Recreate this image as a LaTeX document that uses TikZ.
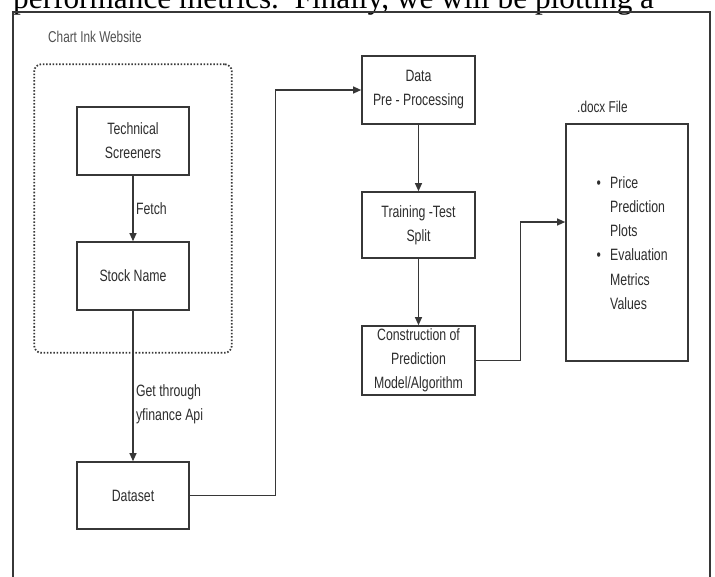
\documentclass[tikz,border=0pt]{standalone}
\usepackage{fontspec}
\setmainfont{Liberation Serif}
\newfontfamily\narrowsans[FakeStretch=0.75]{Liberation Sans}
\usepackage{tikz}
\usetikzlibrary{arrows.meta, positioning, fit, calc}
\definecolor{mydark}{RGB}{55,55,55}
\definecolor{myink}{RGB}{45,45,45}
\definecolor{mygrey}{RGB}{80,80,80}
\tikzset{
  box/.style={rectangle, draw=mydark, fill=white,
    minimum width=3.36cm, minimum height=2.04cm, inner sep=0pt,
    align=center, line width=1.3pt, text=myink,
    font=\narrowsans\fontsize{14}{20.5}\selectfont},
  webgroup/.style={rectangle, draw=mydark, line width=1.5pt,
    dash pattern=on 1.3pt off 1.5pt, rounded corners=6pt, inner sep=1.26cm},
  edgetext/.style={inner sep=2pt, text=myink, align=left,
    font=\narrowsans\fontsize{14}{20.5}\selectfont},
  lbltext/.style={inner sep=0pt, text=mygrey,
    font=\narrowsans\fontsize{13.4}{15}\selectfont},
  arrow/.style={-{Triangle[length=7pt, width=6pt]}, line width=1.2pt, color=mydark}
}

\begin{document}
\begin{tikzpicture}[x=0.03cm, y=-0.03cm]
  \useasboundingbox (0,0) rectangle (715,576);
  \clip (0,0) rectangle (715,576);

  % ── Page text and frame ───────────────────────────────────────────
  \node[anchor=base west, inner sep=0pt, font=\fontsize{26.7}{32}\selectfont]
    (pagetext) at (13,8) {performance metrics.\ \ Finally, we will be plotting a};
  \draw[draw=mydark, line width=1.6pt] (13,590) -- (13,12) -- (710,12) -- (710,590);

  % ── Chart Ink website ─────────────────────────────────────────────
  \node[box] (techscr)   at (133,141) {Technical\\Screeners};
  \node[box] (stockname) at (133,276) {Stock Name};
  \node[webgroup, fit=(techscr)(stockname)] (chartink) {};
  \node[lbltext, anchor=west] (chartlbl) at (48,37) {Chart Ink Website};
  \draw[arrow] (techscr) -- node[right, edgetext] {Fetch} (stockname);

  % ── Dataset ───────────────────────────────────────────────────────
  \node[box, minimum height=2.01cm] (dataset) at (133,495.5) {Dataset};
  \draw[arrow] (stockname) -- node[right, pos=0.62, edgetext] {Get through\\yfinance Api} (dataset);

  % ── Processing pipeline ───────────────────────────────────────────
  \node[box, minimum width=3.39cm] (datapre) at (418.5,90) {Data\\Pre - Processing};
  \node[box, minimum width=3.39cm, minimum height=1.98cm] (traintest) at (418.5,225) {Training -Test\\Split};
  \node[box, minimum width=3.39cm, minimum height=2.07cm] (construct) at (418.5,360.5)
    {Construction of\\Prediction\\Model/Algorithm};
  \draw[arrow] (dataset.east) -- ++(86,0) |- (datapre.west);
  \draw[arrow] (datapre) -- (traintest);
  \draw[arrow] (traintest) -- (construct);

  % ── Output file ───────────────────────────────────────────────────
  \node[box, minimum width=3.66cm, minimum height=7.11cm] (docx) at (627,242.5) {};
  \node[lbltext, anchor=west, text=myink] (docxlbl) at (577,107) {.docx File};
  \node[anchor=north west, inner sep=0pt, align=left, text=myink,
    font=\narrowsans\fontsize{14}{20.7}\selectfont] (docxitems) at (610,176)
    {\llap{\textbullet\hspace{8pt}}Price\\Prediction\\Plots\\
     \llap{\textbullet\hspace{8pt}}Evaluation\\Metrics\\Values};
  \draw[arrow] (construct.east) -- ++(45,0) |- ([yshift=0.615cm]docx.west);
\end{tikzpicture}
\end{document}
